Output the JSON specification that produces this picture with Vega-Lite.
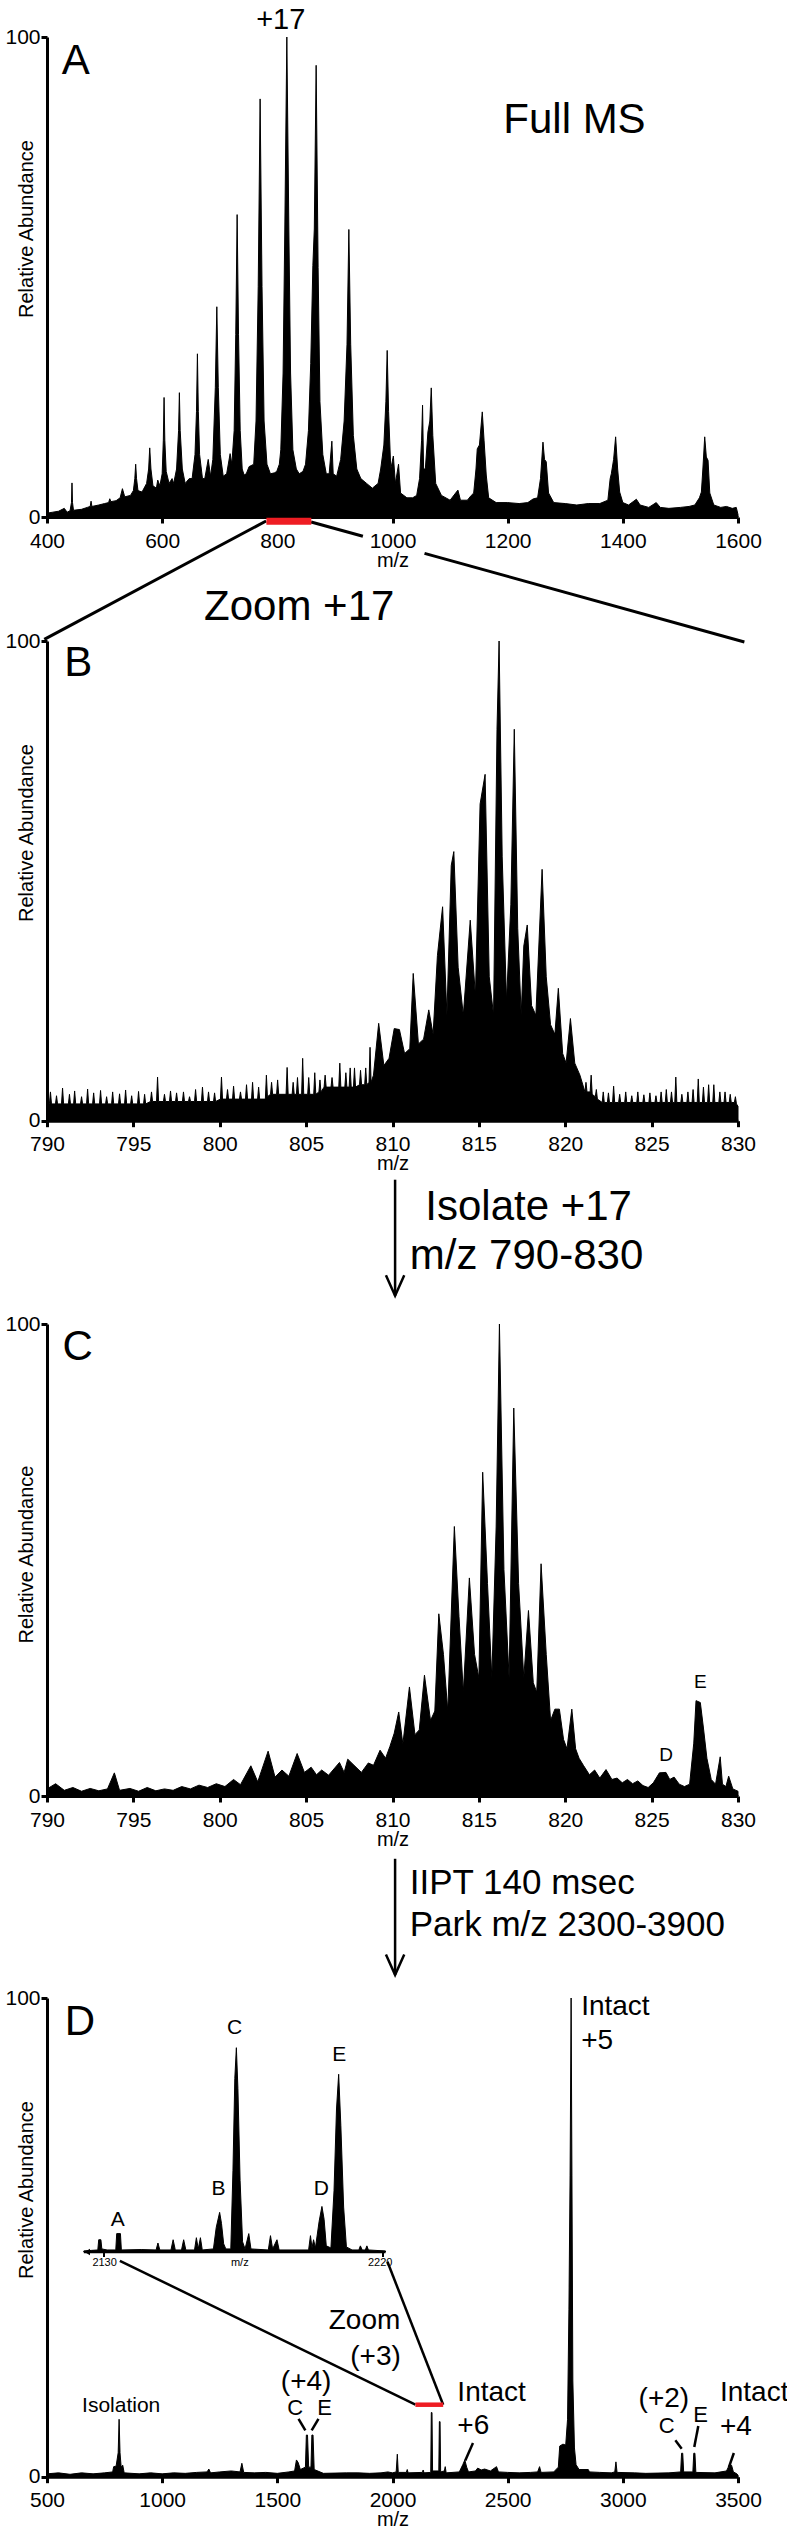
{
  "$schema": "https://vega.github.io/schema/vega-lite/v6.json",
  "padding": {"left": 4, "top": 5, "right": 0, "bottom": 0},
  "background": "white",
  "bounds": "flush",
  "spacing": 0,
  "config": {
    "font": "Liberation Sans",
    "view": {"stroke": null},
    "axis": {"grid": false, "domainColor": "black", "domainWidth": 3, "tickColor": "black", "tickWidth": 3, "tickSize": 6, "labelColor": "black", "labelFontSize": 21, "labelPadding": 7, "titleColor": "black", "titleFontSize": 20, "titleFontWeight": "normal", "labelFlush": false},
    "text": {"font": "Liberation Sans", "baseline": "alphabetic", "color": "black"}
  },
  "datasets": {
    "a": [{"mz":400,"ab":0.8},{"mz":410,"ab":1.0},{"mz":420,"ab":1.2},{"mz":430,"ab":1.8},{"mz":435,"ab":1.0},{"mz":440,"ab":1.3},{"mz":442.5,"ab":3},{"mz":443.4,"ab":7.1},{"mz":444.3,"ab":3},{"mz":446,"ab":1.4},{"mz":460,"ab":1.6},{"mz":470,"ab":2.0},{"mz":475,"ab":2.2},{"mz":476.5,"ab":3.3},{"mz":478,"ab":2.2},{"mz":490,"ab":2.5},{"mz":500,"ab":2.8},{"mz":507,"ab":3.0},{"mz":509,"ab":3.8},{"mz":511,"ab":3.2},{"mz":520,"ab":3.4},{"mz":527,"ab":4.0},{"mz":531,"ab":5.9},{"mz":535,"ab":4.2},{"mz":545,"ab":4.5},{"mz":550,"ab":5.5},{"mz":552.5,"ab":8},{"mz":554,"ab":11},{"mz":555.5,"ab":8},{"mz":558,"ab":5.5},{"mz":565,"ab":5.2},{"mz":573,"ab":7},{"mz":576.5,"ab":10},{"mz":578.4,"ab":14.4},{"mz":580.5,"ab":10},{"mz":584,"ab":6.5},{"mz":590,"ab":6},{"mz":592.3,"ab":7.7},{"mz":596,"ab":6.5},{"mz":600,"ab":9},{"mz":602,"ab":16},{"mz":603.3,"ab":24.9},{"mz":604.6,"ab":16},{"mz":607,"ab":9.5},{"mz":612,"ab":7},{"mz":617.2,"ab":8},{"mz":620,"ab":7},{"mz":625,"ab":10},{"mz":628.5,"ab":18},{"mz":629.9,"ab":25.9},{"mz":631.3,"ab":18},{"mz":635,"ab":10},{"mz":640,"ab":7},{"mz":647,"ab":8},{"mz":652,"ab":8},{"mz":657,"ab":13},{"mz":659.6,"ab":22},{"mz":661.2,"ab":34},{"mz":662.8,"ab":22},{"mz":665,"ab":13},{"mz":670,"ab":8},{"mz":674,"ab":8},{"mz":680,"ab":12},{"mz":684,"ab":8.5},{"mz":688,"ab":12},{"mz":692.3,"ab":27},{"mz":694.9,"ab":43.8},{"mz":697.5,"ab":27},{"mz":701,"ab":13},{"mz":706,"ab":8.5},{"mz":712,"ab":9},{"mz":718,"ab":13.2},{"mz":721,"ab":11},{"mz":725,"ab":18},{"mz":727.8,"ab":38},{"mz":730.2,"ab":63},{"mz":732.6,"ab":38},{"mz":735.5,"ab":18},{"mz":739,"ab":10},{"mz":742.3,"ab":8.75},{"mz":746,"ab":9},{"mz":751,"ab":10.5},{"mz":756,"ab":10.8},{"mz":759,"ab":11},{"mz":763,"ab":20},{"mz":766.8,"ab":48},{"mz":770.1,"ab":87.1},{"mz":773.4,"ab":48},{"mz":777,"ab":20},{"mz":782,"ab":11},{"mz":788,"ab":9},{"mz":795,"ab":9.2},{"mz":799,"ab":9.5},{"mz":803.5,"ab":11},{"mz":806,"ab":14},{"mz":810,"ab":30},{"mz":813,"ab":60},{"mz":816.5,"ab":100},{"mz":820,"ab":60},{"mz":823,"ab":30},{"mz":827,"ab":14},{"mz":833,"ab":10},{"mz":838,"ab":9},{"mz":844.5,"ab":9.5},{"mz":849,"ab":11},{"mz":854,"ab":18},{"mz":858,"ab":32},{"mz":861.7,"ab":52.4},{"mz":864.2,"ab":60},{"mz":867.4,"ab":94.1},{"mz":870.8,"ab":52},{"mz":874,"ab":24},{"mz":879,"ab":13},{"mz":885,"ab":9},{"mz":890,"ab":9},{"mz":894.7,"ab":15.8},{"mz":897,"ab":9},{"mz":903,"ab":8.5},{"mz":910,"ab":12},{"mz":916,"ab":20},{"mz":921,"ab":36},{"mz":924.2,"ab":59.9},{"mz":927.4,"ab":36},{"mz":932,"ab":17},{"mz":938,"ab":10},{"mz":945,"ab":8},{"mz":955,"ab":7},{"mz":965,"ab":6},{"mz":975,"ab":7},{"mz":979.5,"ab":10},{"mz":985,"ab":15},{"mz":988.5,"ab":24},{"mz":990.8,"ab":34.7},{"mz":993.2,"ab":22},{"mz":997,"ab":10},{"mz":1001.5,"ab":12.7},{"mz":1005,"ab":7},{"mz":1010.5,"ab":11},{"mz":1014,"ab":5},{"mz":1025,"ab":4},{"mz":1035,"ab":4},{"mz":1042,"ab":4.5},{"mz":1047,"ab":8},{"mz":1050.5,"ab":16},{"mz":1052.2,"ab":23.3},{"mz":1054,"ab":10},{"mz":1057,"ab":10},{"mz":1061.5,"ab":17.7},{"mz":1064.8,"ab":20},{"mz":1067.3,"ab":26.9},{"mz":1070,"ab":17},{"mz":1075,"ab":7},{"mz":1085,"ab":4.5},{"mz":1100,"ab":3.5},{"mz":1113.6,"ab":5.6},{"mz":1118,"ab":3.5},{"mz":1130,"ab":3.5},{"mz":1136.8,"ab":4.5},{"mz":1141,"ab":5},{"mz":1145,"ab":10},{"mz":1147.2,"ab":14.2},{"mz":1151,"ab":15},{"mz":1155.9,"ab":21.9},{"mz":1159,"ab":16},{"mz":1162.8,"ab":8.75},{"mz":1167,"ab":4},{"mz":1180,"ab":3},{"mz":1200,"ab":3},{"mz":1220,"ab":2.8},{"mz":1235,"ab":3},{"mz":1244,"ab":3.75},{"mz":1252,"ab":4},{"mz":1257,"ab":8},{"mz":1261.3,"ab":15.6},{"mz":1264,"ab":12},{"mz":1267,"ab":11.5},{"mz":1271,"ab":5},{"mz":1280,"ab":3},{"mz":1300,"ab":2.8},{"mz":1320,"ab":2.5},{"mz":1340,"ab":2.8},{"mz":1360,"ab":2.8},{"mz":1374,"ab":3.5},{"mz":1378,"ab":8},{"mz":1380,"ab":9},{"mz":1384,"ab":12},{"mz":1387.5,"ab":16.7},{"mz":1391,"ab":10},{"mz":1394.5,"ab":5.2},{"mz":1400,"ab":3},{"mz":1410,"ab":2.5},{"mz":1423.5,"ab":3.7},{"mz":1430,"ab":2.5},{"mz":1445,"ab":2},{"mz":1458,"ab":3},{"mz":1465,"ab":2},{"mz":1480,"ab":1.8},{"mz":1500,"ab":2},{"mz":1515,"ab":2.2},{"mz":1525,"ab":2.5},{"mz":1533,"ab":4},{"mz":1536.4,"ab":5.2},{"mz":1539,"ab":10},{"mz":1542.2,"ab":16.7},{"mz":1545,"ab":12.5},{"mz":1548,"ab":11.8},{"mz":1551,"ab":5},{"mz":1558,"ab":2.5},{"mz":1570,"ab":2},{"mz":1580,"ab":2.2},{"mz":1590,"ab":1.8},{"mz":1597,"ab":2},{"mz":1600,"ab":0.5}],
    "b": [{"mz":790.0,"ab":3.5},{"mz":790.14,"ab":3.5},{"mz":790.2,"ab":6.0},{"mz":790.26,"ab":3.5},{"mz":790.49,"ab":3.5},{"mz":790.55,"ab":5.2},{"mz":790.61,"ab":3.5},{"mz":790.84,"ab":3.5},{"mz":790.9,"ab":6.8},{"mz":790.96,"ab":3.5},{"mz":791.24,"ab":3.5},{"mz":791.3,"ab":5.5},{"mz":791.36,"ab":3.5},{"mz":791.54,"ab":3.5},{"mz":791.6,"ab":6.2},{"mz":791.66,"ab":3.5},{"mz":791.94,"ab":3.5},{"mz":792.0,"ab":5.0},{"mz":792.06,"ab":3.5},{"mz":792.29,"ab":3.5},{"mz":792.35,"ab":6.6},{"mz":792.41,"ab":3.5},{"mz":792.64,"ab":3.5},{"mz":792.7,"ab":5.8},{"mz":792.76,"ab":3.5},{"mz":793.04,"ab":3.5},{"mz":793.1,"ab":6.3},{"mz":793.16,"ab":3.5},{"mz":793.39,"ab":3.5},{"mz":793.45,"ab":5.0},{"mz":793.51,"ab":3.5},{"mz":793.74,"ab":3.5},{"mz":793.8,"ab":6.0},{"mz":793.86,"ab":3.5},{"mz":794.14,"ab":3.5},{"mz":794.2,"ab":5.6},{"mz":794.26,"ab":3.5},{"mz":794.49,"ab":3.5},{"mz":794.55,"ab":6.4},{"mz":794.61,"ab":3.5},{"mz":794.84,"ab":3.5},{"mz":794.9,"ab":5.2},{"mz":794.96,"ab":3.5},{"mz":795.24,"ab":3.5},{"mz":795.3,"ab":6.1},{"mz":795.36,"ab":3.5},{"mz":795.59,"ab":3.5},{"mz":795.65,"ab":5.5},{"mz":795.71,"ab":3.5},{"mz":795.99,"ab":4},{"mz":796.05,"ab":6.0},{"mz":796.11,"ab":4},{"mz":796.34,"ab":4},{"mz":796.4,"ab":9.1},{"mz":796.46,"ab":4},{"mz":796.74,"ab":4},{"mz":796.8,"ab":5.5},{"mz":796.86,"ab":4},{"mz":797.09,"ab":4},{"mz":797.15,"ab":6.2},{"mz":797.21,"ab":4},{"mz":797.44,"ab":4},{"mz":797.5,"ab":5.8},{"mz":797.56,"ab":4},{"mz":797.84,"ab":4},{"mz":797.9,"ab":6.0},{"mz":797.96,"ab":4},{"mz":798.19,"ab":4},{"mz":798.25,"ab":5.0},{"mz":798.31,"ab":4},{"mz":798.54,"ab":4},{"mz":798.6,"ab":6.5},{"mz":798.66,"ab":4},{"mz":798.94,"ab":4},{"mz":799.0,"ab":7.0},{"mz":799.06,"ab":4},{"mz":799.29,"ab":4},{"mz":799.35,"ab":6.0},{"mz":799.41,"ab":4},{"mz":799.64,"ab":4},{"mz":799.7,"ab":5.8},{"mz":799.76,"ab":4},{"mz":800.04,"ab":4.5},{"mz":800.1,"ab":9.1},{"mz":800.16,"ab":4.5},{"mz":800.39,"ab":4.5},{"mz":800.45,"ab":6.5},{"mz":800.51,"ab":4.5},{"mz":800.74,"ab":4.5},{"mz":800.8,"ab":7.2},{"mz":800.86,"ab":4.5},{"mz":801.14,"ab":4.5},{"mz":801.2,"ab":6.0},{"mz":801.26,"ab":4.5},{"mz":801.49,"ab":4.5},{"mz":801.55,"ab":7.5},{"mz":801.61,"ab":4.5},{"mz":801.84,"ab":4.5},{"mz":801.9,"ab":8.0},{"mz":801.96,"ab":4.5},{"mz":802.19,"ab":4.5},{"mz":802.25,"ab":7.0},{"mz":802.31,"ab":4.5},{"mz":802.64,"ab":4.5},{"mz":802.7,"ab":9.5},{"mz":802.76,"ab":5},{"mz":802.94,"ab":5.5},{"mz":803.0,"ab":8.0},{"mz":803.06,"ab":5.5},{"mz":803.29,"ab":5.5},{"mz":803.35,"ab":8.5},{"mz":803.41,"ab":5.5},{"mz":803.84,"ab":5.5},{"mz":803.9,"ab":11.1},{"mz":803.96,"ab":5.5},{"mz":804.19,"ab":5.5},{"mz":804.25,"ab":8.0},{"mz":804.31,"ab":5.5},{"mz":804.44,"ab":5.5},{"mz":804.5,"ab":9.0},{"mz":804.56,"ab":5.5},{"mz":804.74,"ab":5.5},{"mz":804.8,"ab":13.0},{"mz":804.86,"ab":5.5},{"mz":805.09,"ab":5.5},{"mz":805.15,"ab":9.0},{"mz":805.21,"ab":5.5},{"mz":805.44,"ab":5.5},{"mz":805.5,"ab":10.0},{"mz":805.56,"ab":5.5},{"mz":805.74,"ab":6},{"mz":805.8,"ab":8.5},{"mz":805.86,"ab":6},{"mz":806.04,"ab":7},{"mz":806.1,"ab":9.5},{"mz":806.16,"ab":7},{"mz":806.44,"ab":7},{"mz":806.5,"ab":9.0},{"mz":806.56,"ab":7},{"mz":806.89,"ab":7},{"mz":806.95,"ab":12.0},{"mz":807.01,"ab":7},{"mz":807.24,"ab":7},{"mz":807.3,"ab":10.0},{"mz":807.36,"ab":7},{"mz":807.49,"ab":7},{"mz":807.55,"ab":11.0},{"mz":807.61,"ab":7},{"mz":807.74,"ab":7},{"mz":807.8,"ab":11.0},{"mz":807.86,"ab":7},{"mz":808.09,"ab":7.5},{"mz":808.15,"ab":10.5},{"mz":808.21,"ab":7.5},{"mz":808.39,"ab":7.5},{"mz":808.45,"ab":11.0},{"mz":808.51,"ab":7.5},{"mz":808.64,"ab":8},{"mz":808.7,"ab":15.3},{"mz":808.76,"ab":8},{"mz":808.9,"ab":9.5},{"mz":809.2,"ab":20.3},{"mz":809.5,"ab":11.5},{"mz":809.8,"ab":13},{"mz":810.1,"ab":19.2},{"mz":810.4,"ab":19.0},{"mz":810.7,"ab":14},{"mz":811.0,"ab":15},{"mz":811.2,"ab":30.7},{"mz":811.5,"ab":16},{"mz":811.8,"ab":17},{"mz":812.1,"ab":23.1},{"mz":812.35,"ab":18},{"mz":812.6,"ab":34.4},{"mz":812.9,"ab":44.6},{"mz":813.15,"ab":22},{"mz":813.4,"ab":53.2},{"mz":813.55,"ab":56.1},{"mz":813.8,"ab":32},{"mz":814.1,"ab":22},{"mz":814.5,"ab":41.8},{"mz":814.8,"ab":26},{"mz":815.07,"ab":66},{"mz":815.36,"ab":72.2},{"mz":815.6,"ab":30},{"mz":815.85,"ab":22},{"mz":816.05,"ab":81.6},{"mz":816.17,"ab":100},{"mz":816.35,"ab":55},{"mz":816.6,"ab":25},{"mz":816.85,"ab":45},{"mz":817.05,"ab":81.6},{"mz":817.25,"ab":40},{"mz":817.45,"ab":22},{"mz":817.6,"ab":36.4},{"mz":817.8,"ab":40.8},{"mz":818.05,"ab":24},{"mz":818.3,"ab":22},{"mz":818.66,"ab":52.4},{"mz":818.9,"ab":30},{"mz":819.15,"ab":20},{"mz":819.4,"ab":18},{"mz":819.6,"ab":27.6},{"mz":819.85,"ab":14},{"mz":820.05,"ab":12},{"mz":820.3,"ab":21.3},{"mz":820.55,"ab":12},{"mz":820.85,"ab":9.5},{"mz":821.14,"ab":6},{"mz":821.2,"ab":8},{"mz":821.26,"ab":6},{"mz":821.44,"ab":6},{"mz":821.5,"ab":9.5},{"mz":821.56,"ab":5.5},{"mz":821.74,"ab":5},{"mz":821.8,"ab":6.5},{"mz":821.86,"ab":4.5},{"mz":822.14,"ab":3.8},{"mz":822.2,"ab":6},{"mz":822.26,"ab":3.8},{"mz":822.44,"ab":3.8},{"mz":822.5,"ab":5.8},{"mz":822.56,"ab":3.8},{"mz":822.74,"ab":3.8},{"mz":822.8,"ab":7.2},{"mz":822.86,"ab":3.8},{"mz":823.09,"ab":3.8},{"mz":823.15,"ab":5.5},{"mz":823.21,"ab":3.8},{"mz":823.44,"ab":3.8},{"mz":823.5,"ab":6},{"mz":823.56,"ab":3.8},{"mz":823.79,"ab":3.8},{"mz":823.85,"ab":5.2},{"mz":823.91,"ab":3.8},{"mz":824.14,"ab":3.8},{"mz":824.2,"ab":6},{"mz":824.26,"ab":3.8},{"mz":824.49,"ab":3.8},{"mz":824.55,"ab":5.4},{"mz":824.61,"ab":3.8},{"mz":824.84,"ab":3.8},{"mz":824.9,"ab":5.8},{"mz":824.96,"ab":3.8},{"mz":825.19,"ab":3.8},{"mz":825.25,"ab":5.2},{"mz":825.31,"ab":3.8},{"mz":825.49,"ab":3.8},{"mz":825.55,"ab":6.0},{"mz":825.61,"ab":3.8},{"mz":825.79,"ab":3.8},{"mz":825.85,"ab":6.5},{"mz":825.91,"ab":3.8},{"mz":826.09,"ab":3.8},{"mz":826.15,"ab":6},{"mz":826.21,"ab":3.8},{"mz":826.34,"ab":3.8},{"mz":826.4,"ab":9.1},{"mz":826.46,"ab":3.8},{"mz":826.69,"ab":3.8},{"mz":826.75,"ab":5.5},{"mz":826.81,"ab":3.8},{"mz":827.04,"ab":3.8},{"mz":827.1,"ab":6.0},{"mz":827.16,"ab":3.8},{"mz":827.34,"ab":3.8},{"mz":827.4,"ab":6.5},{"mz":827.46,"ab":3.8},{"mz":827.64,"ab":3.8},{"mz":827.7,"ab":8.7},{"mz":827.76,"ab":3.8},{"mz":827.94,"ab":3.8},{"mz":828.0,"ab":7.0},{"mz":828.06,"ab":3.8},{"mz":828.24,"ab":3.8},{"mz":828.3,"ab":7.5},{"mz":828.36,"ab":3.8},{"mz":828.54,"ab":3.8},{"mz":828.6,"ab":7.5},{"mz":828.66,"ab":3.8},{"mz":828.89,"ab":3.8},{"mz":828.95,"ab":6.0},{"mz":829.01,"ab":3.8},{"mz":829.19,"ab":3.8},{"mz":829.25,"ab":6.0},{"mz":829.31,"ab":3.8},{"mz":829.49,"ab":3.8},{"mz":829.55,"ab":5.5},{"mz":829.61,"ab":3.8},{"mz":829.79,"ab":3.8},{"mz":829.85,"ab":5.0},{"mz":829.91,"ab":3.5},{"mz":830,"ab":3.0}],
    "c": [{"mz":790.0,"ab":1.5},{"mz":790.5,"ab":2.6},{"mz":791.0,"ab":1.2},{"mz":791.5,"ab":1.8},{"mz":792.0,"ab":1.0},{"mz":792.5,"ab":1.6},{"mz":793.0,"ab":1.1},{"mz":793.5,"ab":1.5},{"mz":793.9,"ab":4.9},{"mz":794.2,"ab":1.2},{"mz":794.8,"ab":1.6},{"mz":795.3,"ab":1.0},{"mz":795.8,"ab":1.8},{"mz":796.3,"ab":1.1},{"mz":796.8,"ab":1.5},{"mz":797.3,"ab":1.2},{"mz":797.8,"ab":2.0},{"mz":798.3,"ab":1.5},{"mz":798.8,"ab":2.3},{"mz":799.3,"ab":1.8},{"mz":799.8,"ab":2.6},{"mz":800.3,"ab":2.0},{"mz":800.8,"ab":3.5},{"mz":801.2,"ab":2.4},{"mz":801.8,"ab":6.4},{"mz":802.2,"ab":3.0},{"mz":802.8,"ab":9.5},{"mz":803.2,"ab":4.0},{"mz":803.6,"ab":5.5},{"mz":804.0,"ab":4.2},{"mz":804.48,"ab":9.0},{"mz":804.9,"ab":5.0},{"mz":805.29,"ab":6.1},{"mz":805.6,"ab":4.5},{"mz":805.9,"ab":5.5},{"mz":806.3,"ab":4.4},{"mz":806.93,"ab":7.1},{"mz":807.2,"ab":5.0},{"mz":807.41,"ab":7.8},{"mz":807.83,"ab":6.3},{"mz":808.2,"ab":5.0},{"mz":808.6,"ab":7.0},{"mz":808.9,"ab":6.5},{"mz":809.28,"ab":9.7},{"mz":809.6,"ab":8.0},{"mz":809.85,"ab":10.5},{"mz":810.1,"ab":13.3},{"mz":810.36,"ab":17.8},{"mz":810.6,"ab":11},{"mz":810.98,"ab":23.1},{"mz":811.3,"ab":13},{"mz":811.55,"ab":14},{"mz":811.85,"ab":25.6},{"mz":812.2,"ab":16},{"mz":812.45,"ab":18},{"mz":812.68,"ab":38.6},{"mz":812.95,"ab":30},{"mz":813.2,"ab":18},{"mz":813.58,"ab":57.1},{"mz":813.85,"ab":38},{"mz":814.1,"ab":22},{"mz":814.45,"ab":46.2},{"mz":814.75,"ab":30},{"mz":815.0,"ab":25},{"mz":815.22,"ab":68.6},{"mz":815.5,"ab":45},{"mz":815.75,"ab":25},{"mz":816.0,"ab":57},{"mz":816.19,"ab":100},{"mz":816.45,"ab":48},{"mz":816.75,"ab":25},{"mz":817.02,"ab":82.2},{"mz":817.3,"ab":45},{"mz":817.6,"ab":25},{"mz":817.87,"ab":39.3},{"mz":818.15,"ab":24},{"mz":818.35,"ab":22},{"mz":818.6,"ab":49.2},{"mz":818.9,"ab":30},{"mz":819.15,"ab":16},{"mz":819.4,"ab":18.4},{"mz":819.66,"ab":18.4},{"mz":819.9,"ab":12},{"mz":820.1,"ab":10},{"mz":820.38,"ab":18.4},{"mz":820.6,"ab":10},{"mz":820.8,"ab":8},{"mz":821.05,"ab":6.5},{"mz":821.4,"ab":4.5},{"mz":821.7,"ab":5.5},{"mz":822.0,"ab":3.8},{"mz":822.36,"ab":5.6},{"mz":822.7,"ab":3.5},{"mz":823.0,"ab":3.8},{"mz":823.3,"ab":2.8},{"mz":823.6,"ab":3.5},{"mz":823.9,"ab":2.6},{"mz":824.2,"ab":3.2},{"mz":824.5,"ab":2.2},{"mz":824.8,"ab":1.8},{"mz":825.1,"ab":2.8},{"mz":825.45,"ab":4.9},{"mz":825.83,"ab":5.0},{"mz":826.05,"ab":3.5},{"mz":826.3,"ab":4.0},{"mz":826.6,"ab":2.5},{"mz":826.9,"ab":2.0},{"mz":827.2,"ab":2.5},{"mz":827.44,"ab":11.2},{"mz":827.57,"ab":20.2},{"mz":827.82,"ab":19.8},{"mz":828.0,"ab":14.4},{"mz":828.2,"ab":8},{"mz":828.45,"ab":3.5},{"mz":828.7,"ab":2.5},{"mz":828.97,"ab":8.3},{"mz":829.1,"ab":2.5},{"mz":829.3,"ab":2.0},{"mz":829.46,"ab":4.2},{"mz":829.7,"ab":1.5},{"mz":830,"ab":1.0}],
    "d": [{"mz":500,"ab":0.6},{"mz":550,"ab":0.8},{"mz":600,"ab":0.5},{"mz":650,"ab":0.8},{"mz":700,"ab":0.6},{"mz":750,"ab":0.8},{"mz":785,"ab":1.0},{"mz":789.5,"ab":2.1},{"mz":800,"ab":2.2},{"mz":809,"ab":5},{"mz":813,"ab":12.0},{"mz":817,"ab":5},{"mz":822,"ab":2.0},{"mz":828.9,"ab":2.4},{"mz":835,"ab":0.8},{"mz":900,"ab":0.6},{"mz":950,"ab":0.8},{"mz":1000,"ab":0.6},{"mz":1050,"ab":0.8},{"mz":1100,"ab":0.7},{"mz":1150,"ab":0.9},{"mz":1195,"ab":1.0},{"mz":1202.6,"ab":1.6},{"mz":1210,"ab":0.8},{"mz":1250,"ab":1.0},{"mz":1300,"ab":1.2},{"mz":1338,"ab":1.0},{"mz":1346,"ab":2.8},{"mz":1354,"ab":0.9},{"mz":1400,"ab":0.8},{"mz":1450,"ab":0.9},{"mz":1500,"ab":0.7},{"mz":1550,"ab":1.0},{"mz":1575,"ab":1.2},{"mz":1583,"ab":3.5},{"mz":1590,"ab":3.0},{"mz":1600,"ab":1.5},{"mz":1622,"ab":2},{"mz":1626,"ab":8.7},{"mz":1631,"ab":8.7},{"mz":1636,"ab":2},{"mz":1646,"ab":2},{"mz":1650,"ab":8.7},{"mz":1655,"ab":8.7},{"mz":1660,"ab":1.5},{"mz":1700,"ab":0.7},{"mz":1800,"ab":0.8},{"mz":1850,"ab":0.8},{"mz":1900,"ab":0.7},{"mz":1950,"ab":0.8},{"mz":1980,"ab":1.0},{"mz":2000,"ab":0.8},{"mz":2016,"ab":1.0},{"mz":2020.9,"ab":4.7},{"mz":2025,"ab":0.9},{"mz":2060,"ab":0.9},{"mz":2064,"ab":1.5},{"mz":2068,"ab":0.8},{"mz":2130,"ab":0.9},{"mz":2133,"ab":1.4},{"mz":2137,"ab":0.8},{"mz":2166,"ab":0.9},{"mz":2168.5,"ab":13.4},{"mz":2171.5,"ab":13.4},{"mz":2174,"ab":1.2},{"mz":2201,"ab":1.2},{"mz":2203.5,"ab":11.5},{"mz":2206.5,"ab":11.5},{"mz":2209,"ab":1.0},{"mz":2225,"ab":1.2},{"mz":2229,"ab":2.1},{"mz":2233,"ab":0.8},{"mz":2290,"ab":1.0},{"mz":2305,"ab":2.5},{"mz":2314,"ab":3.5},{"mz":2322,"ab":2.0},{"mz":2330,"ab":1.0},{"mz":2360,"ab":1.2},{"mz":2370,"ab":1.8},{"mz":2385,"ab":1.4},{"mz":2400,"ab":1.6},{"mz":2425,"ab":1.2},{"mz":2451.6,"ab":2.1},{"mz":2460,"ab":1.0},{"mz":2500,"ab":0.9},{"mz":2550,"ab":0.8},{"mz":2600,"ab":0.9},{"mz":2630,"ab":1.0},{"mz":2638.5,"ab":2.1},{"mz":2645,"ab":0.9},{"mz":2700,"ab":1.0},{"mz":2720,"ab":2.0},{"mz":2726,"ab":6.4},{"mz":2740,"ab":6.8},{"mz":2752,"ab":6.6},{"mz":2760,"ab":12},{"mz":2766,"ab":35},{"mz":2771,"ab":63},{"mz":2775.5,"ab":100},{"mz":2779,"ab":63},{"mz":2783,"ab":20},{"mz":2790,"ab":6},{"mz":2797,"ab":2.5},{"mz":2810,"ab":1.5},{"mz":2850,"ab":1.5},{"mz":2855,"ab":1.0},{"mz":2900,"ab":0.9},{"mz":2950,"ab":0.8},{"mz":2965,"ab":1.0},{"mz":2970,"ab":3.1},{"mz":2975,"ab":0.9},{"mz":3050,"ab":0.8},{"mz":3100,"ab":0.7},{"mz":3200,"ab":0.8},{"mz":3251,"ab":1.0},{"mz":3255,"ab":4.9},{"mz":3260,"ab":4.9},{"mz":3264,"ab":1.0},{"mz":3304,"ab":1.0},{"mz":3308,"ab":4.9},{"mz":3313,"ab":4.9},{"mz":3317,"ab":0.9},{"mz":3400,"ab":0.8},{"mz":3450,"ab":1.2},{"mz":3462,"ab":2.4},{"mz":3472,"ab":2.4},{"mz":3480,"ab":1.0},{"mz":3495,"ab":0.6},{"mz":3500,"ab":0.3}],
    "inset": [{"mz":2123.5,"ab":0.5},{"mz":2126,"ab":0.8},{"mz":2128,"ab":1},{"mz":2128.3,"ab":6},{"mz":2129,"ab":6},{"mz":2129.3,"ab":1.5},{"mz":2131,"ab":1},{"mz":2133.8,"ab":1},{"mz":2134.1,"ab":9},{"mz":2135.3,"ab":9},{"mz":2135.6,"ab":1},{"mz":2142,"ab":1.2},{"mz":2146.8,"ab":1},{"mz":2147.4,"ab":4.4},{"mz":2148,"ab":1},{"mz":2151.6,"ab":1},{"mz":2152.3,"ab":6},{"mz":2153,"ab":1},{"mz":2155,"ab":1},{"mz":2155.7,"ab":6},{"mz":2156.4,"ab":1},{"mz":2159.2,"ab":1},{"mz":2159.8,"ab":7},{"mz":2160.4,"ab":1.5},{"mz":2161.1,"ab":7},{"mz":2161.7,"ab":1},{"mz":2165.3,"ab":1.5},{"mz":2166.2,"ab":12},{"mz":2167.3,"ab":19.4},{"mz":2167.9,"ab":14},{"mz":2168.6,"ab":4},{"mz":2169.3,"ab":1.5},{"mz":2170.9,"ab":1.5},{"mz":2171.6,"ab":40},{"mz":2172.2,"ab":85},{"mz":2172.7,"ab":100},{"mz":2173.2,"ab":80},{"mz":2173.9,"ab":35},{"mz":2174.7,"ab":5},{"mz":2175.5,"ab":1.5},{"mz":2176.7,"ab":9},{"mz":2177.4,"ab":1.5},{"mz":2183,"ab":1},{"mz":2183.7,"ab":8},{"mz":2184.4,"ab":1.5},{"mz":2185.8,"ab":6},{"mz":2186.5,"ab":1},{"mz":2196,"ab":1},{"mz":2196.6,"ab":8},{"mz":2197.1,"ab":2},{"mz":2197.6,"ab":6},{"mz":2198.2,"ab":2},{"mz":2199.4,"ab":15},{"mz":2200.3,"ab":22.3},{"mz":2201,"ab":16},{"mz":2201.7,"ab":3},{"mz":2203.2,"ab":2},{"mz":2204.2,"ab":30},{"mz":2205,"ab":70},{"mz":2205.7,"ab":87},{"mz":2206.4,"ab":62},{"mz":2207.3,"ab":22},{"mz":2208.2,"ab":2.5},{"mz":2210,"ab":1},{"mz":2212.2,"ab":1},{"mz":2212.7,"ab":3},{"mz":2213.3,"ab":1},{"mz":2214.3,"ab":1},{"mz":2214.8,"ab":3},{"mz":2215.3,"ab":1},{"mz":2220.8,"ab":0.5}]
  },
  "vconcat": [
    {
      "width": 691,
      "height": 603.3,
      "layer": [
        {
          "data": {"name": "a"},
          "mark": {"type": "area", "color": "black", "stroke": "black", "strokeWidth": 1, "strokeJoin": "round"},
          "encoding": {
            "x": {"field": "mz", "type": "quantitative", "scale": {"domain": [400, 1600]}, "axis": {"values": [400, 600, 800, 1000, 1200, 1400, 1600], "format": "d", "title": "m/z", "offset": -123.3, "titleY": 49, "titleBaseline": "alphabetic", "titleFontSize": 20}},
            "y": {"field": "ab", "type": "quantitative", "scale": {"domain": [0, 100], "range": [480, 0]}, "axis": {"values": [0, 100], "title": "Relative Abundance", "titleFontSize": 20, "titleX": -15, "titleY": 191.5, "titleAngle": -90, "titleBaseline": "alphabetic", "titleAlign": "center", "labelPadding": 1}}
          }
        },
        {
          "data": {"values": [{"mz": 780.5, "ab": -0.83, "mz2": 395.3, "ab2": -25.5}, {"mz": 858.7, "ab": -1.04, "mz2": 948.6, "ab2": -4.02}, {"mz": 1055.6, "ab": -7.58, "mz2": 1611.1, "ab2": -26.04}]},
          "mark": {"type": "rule", "color": "black", "strokeWidth": 3},
          "encoding": {"x": {"field": "mz", "type": "quantitative"}, "x2": {"field": "mz2"}, "y": {"field": "ab", "type": "quantitative"}, "y2": {"field": "ab2"}}
        },
        {
          "data": {"values": [{"mz": 781, "mz2": 859, "ab": -0.9}]},
          "mark": {"type": "rule", "color": "#ee1d23", "strokeWidth": 7},
          "encoding": {"x": {"field": "mz", "type": "quantitative"}, "x2": {"field": "mz2"}, "y": {"field": "ab", "type": "quantitative"}}
        },
        {
          "data": {"values": [{"mz": 425.5, "ab": 92.35, "label": "A"}, {"mz": 1192.4, "ab": 80, "label": "Full MS"}, {"mz": 672.8, "ab": -21.5, "label": "Zoom +17"}]},
          "mark": {"type": "text", "fontSize": 42, "align": "left", "baseline": "alphabetic"},
          "encoding": {"x": {"field": "mz", "type": "quantitative"}, "y": {"field": "ab", "type": "quantitative"}, "text": {"field": "label"}}
        },
        {
          "data": {"values": [{"mz": 763.2, "ab": 101.7, "label": "+17"}]},
          "mark": {"type": "text", "fontSize": 29, "align": "left", "baseline": "alphabetic"},
          "encoding": {"x": {"field": "mz", "type": "quantitative"}, "y": {"field": "ab", "type": "quantitative"}, "text": {"field": "label"}}
        }
      ]
    },
    {
      "width": 691,
      "height": 682.7,
      "layer": [
        {
          "data": {"name": "b"},
          "mark": {"type": "area", "color": "black", "stroke": "black", "strokeWidth": 1, "strokeJoin": "round"},
          "encoding": {
            "x": {"field": "mz", "type": "quantitative", "scale": {"domain": [790, 830]}, "axis": {"values": [790, 795, 800, 805, 810, 815, 820, 825, 830], "format": "d", "title": "m/z", "offset": -203, "titleY": 49, "titleBaseline": "alphabetic", "titleFontSize": 20}},
            "y": {"field": "ab", "type": "quantitative", "scale": {"domain": [0, 100], "range": [479.7, 0]}, "axis": {"values": [0, 100], "title": "Relative Abundance", "titleFontSize": 20, "titleX": -15, "titleY": 191.5, "titleAngle": -90, "titleBaseline": "alphabetic", "titleAlign": "center", "labelPadding": 1}}
          }
        },
        {
          "data": {"values": [{"mz": 810.15, "ab": -12.3, "ab2": -36.5}]},
          "mark": {"type": "rule", "color": "black", "strokeWidth": 2.5},
          "encoding": {"x": {"field": "mz", "type": "quantitative"}, "y": {"field": "ab", "type": "quantitative"}, "y2": {"field": "ab2"}}
        },
        {
          "data": {"values": [{"mz": 809.62, "ab": -32.2}, {"mz": 810.15, "ab": -36.5}, {"mz": 810.68, "ab": -32.2}]},
          "mark": {"type": "line", "color": "black", "strokeWidth": 2.5},
          "encoding": {"x": {"field": "mz", "type": "quantitative"}, "y": {"field": "ab", "type": "quantitative"}}
        },
        {
          "data": {"values": [{"mz": 791.0, "ab": 92.6, "label": "B"}, {"mz": 811.9, "ab": -20.6, "label": "Isolate +17"}, {"mz": 811.0, "ab": -30.9, "label": "m/z 790-830"}]},
          "mark": {"type": "text", "fontSize": 42, "align": "left", "baseline": "alphabetic"},
          "encoding": {"x": {"field": "mz", "type": "quantitative"}, "y": {"field": "ab", "type": "quantitative"}, "text": {"field": "label"}}
        }
      ]
    },
    {
      "width": 691,
      "height": 673.3,
      "layer": [
        {
          "data": {"name": "c"},
          "mark": {"type": "area", "color": "black", "stroke": "black", "strokeWidth": 1, "strokeJoin": "round"},
          "encoding": {
            "x": {"field": "mz", "type": "quantitative", "scale": {"domain": [790, 830]}, "axis": {"values": [790, 795, 800, 805, 810, 815, 820, 825, 830], "format": "d", "title": "m/z", "offset": -201.3, "titleY": 49, "titleBaseline": "alphabetic", "titleFontSize": 20}},
            "y": {"field": "ab", "type": "quantitative", "scale": {"domain": [0, 100], "range": [472, 0]}, "axis": {"values": [0, 100], "title": "Relative Abundance", "titleFontSize": 20, "titleX": -15, "titleY": 230, "titleAngle": -90, "titleBaseline": "alphabetic", "titleAlign": "center", "labelPadding": 1}}
          }
        },
        {
          "data": {"values": [{"mz": 810.15, "ab": -13.3, "ab2": -37.9}]},
          "mark": {"type": "rule", "color": "black", "strokeWidth": 2.5},
          "encoding": {"x": {"field": "mz", "type": "quantitative"}, "y": {"field": "ab", "type": "quantitative"}, "y2": {"field": "ab2"}}
        },
        {
          "data": {"values": [{"mz": 809.62, "ab": -33.6}, {"mz": 810.15, "ab": -37.9}, {"mz": 810.68, "ab": -33.6}]},
          "mark": {"type": "line", "color": "black", "strokeWidth": 2.5},
          "encoding": {"x": {"field": "mz", "type": "quantitative"}, "y": {"field": "ab", "type": "quantitative"}}
        },
        {
          "data": {"values": [{"mz": 790.9, "ab": 92.4, "label": "C"}]},
          "mark": {"type": "text", "fontSize": 42, "align": "left", "baseline": "alphabetic"},
          "encoding": {"x": {"field": "mz", "type": "quantitative"}, "y": {"field": "ab", "type": "quantitative"}, "text": {"field": "label"}}
        },
        {
          "data": {"values": [{"mz": 811.0, "ab": -20.8, "label": "IIPT 140 msec"}, {"mz": 811.0, "ab": -29.6, "label": "Park m/z 2300-3900"}]},
          "mark": {"type": "text", "fontSize": 35, "align": "left", "baseline": "alphabetic"},
          "encoding": {"x": {"field": "mz", "type": "quantitative"}, "y": {"field": "ab", "type": "quantitative"}, "text": {"field": "label"}}
        },
        {
          "data": {"values": [{"mz": 825.84, "ab": 7.35, "label": "D"}, {"mz": 827.82, "ab": 22.9, "label": "E"}]},
          "mark": {"type": "text", "fontSize": 19, "align": "center", "baseline": "alphabetic"},
          "encoding": {"x": {"field": "mz", "type": "quantitative"}, "y": {"field": "ab", "type": "quantitative"}, "text": {"field": "label"}}
        }
      ]
    },
    {
      "width": 691,
      "height": 478.7,
      "resolve": {"scale": {"x": "independent", "y": "independent"}},
      "layer": [
        {
          "layer": [
            {
              "data": {"name": "d"},
              "mark": {"type": "area", "color": "black", "stroke": "black", "strokeWidth": 1, "strokeJoin": "round"},
              "encoding": {
                "x": {"field": "mz", "type": "quantitative", "scale": {"domain": [500, 3500], "zero": false, "nice": false}, "axis": {"values": [500, 1000, 1500, 2000, 2500, 3000, 3500], "format": "d", "title": "m/z", "titleY": 49, "titleBaseline": "alphabetic", "titleFontSize": 20}},
                "y": {"field": "ab", "type": "quantitative", "scale": {"domain": [0, 100], "range": [478.7, 0]}, "axis": {"values": [0, 100], "title": "Relative Abundance", "titleFontSize": 20, "titleX": -15, "titleY": 191.5, "titleAngle": -90, "titleBaseline": "alphabetic", "titleAlign": "center", "labelPadding": 1}}
              }
            },
            {
              "data": {"values": [{"mz": 2099.5, "ab": 15.04, "mz2": 816.4, "ab2": 45.1}, {"mz": 2220, "ab": 15.04, "mz2": 1978.1, "ab2": 44.9}, {"mz": 1592, "ab": 12.1, "mz2": 1621.6, "ab2": 9.67}, {"mz": 1678.6, "ab": 12.1, "mz2": 1649, "ab2": 9.67}, {"mz": 2349.4, "ab": 7.04, "mz2": 2316, "ab2": 3.4}, {"mz": 3228, "ab": 7.6, "mz2": 3255.5, "ab2": 5.85}, {"mz": 3327.6, "ab": 10.6, "mz2": 3310.2, "ab2": 6.2}, {"mz": 3482, "ab": 4.95, "mz2": 3460.5, "ab2": 2.0}]},
              "mark": {"type": "rule", "color": "black", "strokeWidth": 2.5},
              "encoding": {"x": {"field": "mz", "type": "quantitative", "scale": {"domain": [500, 3500], "zero": false, "nice": false}}, "x2": {"field": "mz2"}, "y": {"field": "ab", "type": "quantitative", "scale": {"domain": [0, 100], "range": [478.7, 0]}}, "y2": {"field": "ab2"}}
            },
            {
              "data": {"values": [{"mz": 2099.5, "mz2": 2220, "ab": 15.04}]},
              "mark": {"type": "rule", "color": "#ee1d23", "strokeWidth": 4.5},
              "encoding": {"x": {"field": "mz", "type": "quantitative", "scale": {"domain": [500, 3500], "zero": false, "nice": false}}, "x2": {"field": "mz2"}, "y": {"field": "ab", "type": "quantitative", "scale": {"domain": [0, 100], "range": [478.7, 0]}}}
            },
            {
              "data": {"values": [{"mz": 576.7, "ab": 92.3, "label": "D"}]},
              "mark": {"type": "text", "fontSize": 42, "align": "left", "baseline": "alphabetic"},
              "encoding": {"x": {"field": "mz", "type": "quantitative", "scale": {"domain": [500, 3500], "zero": false, "nice": false}}, "y": {"field": "ab", "type": "quantitative", "scale": {"domain": [0, 100], "range": [478.7, 0]}}, "text": {"field": "label"}}
            },
            {
              "data": {"values": [{"mz": 2819, "ab": 96.4, "label": "Intact"}, {"mz": 2819, "ab": 89.4, "label": "+5"}, {"mz": 2281.6, "ab": 15.9, "label": "Intact"}, {"mz": 2281.6, "ab": 9.0, "label": "+6"}, {"mz": 3421.6, "ab": 15.9, "label": "Intact"}, {"mz": 3421.6, "ab": 8.8, "label": "+4"}]},
              "mark": {"type": "text", "fontSize": 28, "align": "left", "baseline": "alphabetic"},
              "encoding": {"x": {"field": "mz", "type": "quantitative", "scale": {"domain": [500, 3500], "zero": false, "nice": false}}, "y": {"field": "ab", "type": "quantitative", "scale": {"domain": [0, 100], "range": [478.7, 0]}}, "text": {"field": "label"}}
            },
            {
              "data": {"values": [{"mz": 3178, "ab": 14.6, "label": "(+2)"}, {"mz": 1625, "ab": 18.2, "label": "(+4)"}]},
              "mark": {"type": "text", "fontSize": 28, "align": "center", "baseline": "alphabetic"},
              "encoding": {"x": {"field": "mz", "type": "quantitative", "scale": {"domain": [500, 3500], "zero": false, "nice": false}}, "y": {"field": "ab", "type": "quantitative", "scale": {"domain": [0, 100], "range": [478.7, 0]}}, "text": {"field": "label"}}
            },
            {
              "data": {"values": [{"mz": 2034, "ab": 30.9, "label": "Zoom"}, {"mz": 2036, "ab": 23.25, "label": "(+3)"}]},
              "mark": {"type": "text", "fontSize": 28, "align": "right", "baseline": "alphabetic"},
              "encoding": {"x": {"field": "mz", "type": "quantitative", "scale": {"domain": [500, 3500], "zero": false, "nice": false}}, "y": {"field": "ab", "type": "quantitative", "scale": {"domain": [0, 100], "range": [478.7, 0]}}, "text": {"field": "label"}}
            },
            {
              "data": {"values": [{"mz": 1577, "ab": 12.9, "label": "C"}, {"mz": 1705, "ab": 12.9, "label": "E"}, {"mz": 3190, "ab": 9.2, "label": "C"}, {"mz": 3338, "ab": 11.5, "label": "E"}]},
              "mark": {"type": "text", "fontSize": 22, "align": "center", "baseline": "alphabetic"},
              "encoding": {"x": {"field": "mz", "type": "quantitative", "scale": {"domain": [500, 3500], "zero": false, "nice": false}}, "y": {"field": "ab", "type": "quantitative", "scale": {"domain": [0, 100], "range": [478.7, 0]}}, "text": {"field": "label"}}
            },
            {
              "data": {"values": [{"mz": 822, "ab": 13.5, "label": "Isolation"}]},
              "mark": {"type": "text", "fontSize": 21, "align": "center", "baseline": "alphabetic"},
              "encoding": {"x": {"field": "mz", "type": "quantitative", "scale": {"domain": [500, 3500], "zero": false, "nice": false}}, "y": {"field": "ab", "type": "quantitative", "scale": {"domain": [0, 100], "range": [478.7, 0]}}, "text": {"field": "label"}}
            }
          ]
        },
        {
          "layer": [
            {
              "data": {"name": "inset"},
              "mark": {"type": "area", "color": "black", "stroke": "black", "strokeWidth": 1, "strokeJoin": "round"},
              "encoding": {
                "x": {"field": "mz", "type": "quantitative", "scale": {"domain": [2130, 2220], "range": [57, 336]}, "axis": null},
                "y": {"field": "ab", "type": "quantitative", "scale": {"domain": [0, 100], "range": [254, 49.7]}, "axis": null}
              }
            },
            {
              "data": {"values": [{"mz": 2123.5, "mz2": 2220.8, "ab": 0}]},
              "mark": {"type": "rule", "color": "black", "strokeWidth": 2.5},
              "encoding": {"x": {"field": "mz", "type": "quantitative", "scale": {"domain": [2130, 2220], "range": [57, 336]}, "axis": null}, "x2": {"field": "mz2"}, "y": {"field": "ab", "type": "quantitative", "scale": {"domain": [0, 100], "range": [254, 49.7]}, "axis": null}}
            },
            {
              "data": {"values": [{"mz": 2130, "ab": 0, "ab2": -2.5}, {"mz": 2220, "ab": 0, "ab2": -2.5}]},
              "mark": {"type": "rule", "color": "black", "strokeWidth": 2},
              "encoding": {"x": {"field": "mz", "type": "quantitative", "scale": {"domain": [2130, 2220], "range": [57, 336]}, "axis": null}, "y": {"field": "ab", "type": "quantitative", "scale": {"domain": [0, 100], "range": [254, 49.7]}, "axis": null}, "y2": {"field": "ab2"}}
            },
            {
              "data": {"values": [{"mz": 2124.6, "ab": 0}]},
              "mark": {"type": "point", "shape": "triangle-left", "filled": true, "color": "black", "size": 40, "opacity": 1},
              "encoding": {"x": {"field": "mz", "type": "quantitative", "scale": {"domain": [2130, 2220], "range": [57, 336]}, "axis": null}, "y": {"field": "ab", "type": "quantitative", "scale": {"domain": [0, 100], "range": [254, 49.7]}, "axis": null}}
            },
            {
              "data": {"values": [{"mz": 2130.2, "ab": -2.6, "label": "2130"}, {"mz": 2219.1, "ab": -2.6, "label": "2220"}, {"mz": 2173.8, "ab": -2.6, "label": "m/z"}]},
              "mark": {"type": "text", "fontSize": 11, "align": "center", "baseline": "top"},
              "encoding": {"x": {"field": "mz", "type": "quantitative", "scale": {"domain": [2130, 2220], "range": [57, 336]}, "axis": null}, "y": {"field": "ab", "type": "quantitative", "scale": {"domain": [0, 100], "range": [254, 49.7]}, "axis": null}, "text": {"field": "label"}}
            },
            {
              "data": {"values": [{"mz": 2134.4, "ab": 12.5, "label": "A"}, {"mz": 2166.9, "ab": 27.7, "label": "B"}, {"mz": 2172.1, "ab": 106.8, "label": "C"}, {"mz": 2200.1, "ab": 27.7, "label": "D"}, {"mz": 2205.9, "ab": 93.3, "label": "E"}]},
              "mark": {"type": "text", "fontSize": 21, "align": "center", "baseline": "alphabetic"},
              "encoding": {"x": {"field": "mz", "type": "quantitative", "scale": {"domain": [2130, 2220], "range": [57, 336]}, "axis": null}, "y": {"field": "ab", "type": "quantitative", "scale": {"domain": [0, 100], "range": [254, 49.7]}, "axis": null}, "text": {"field": "label"}}
            }
          ]
        }
      ]
    }
  ]
}
